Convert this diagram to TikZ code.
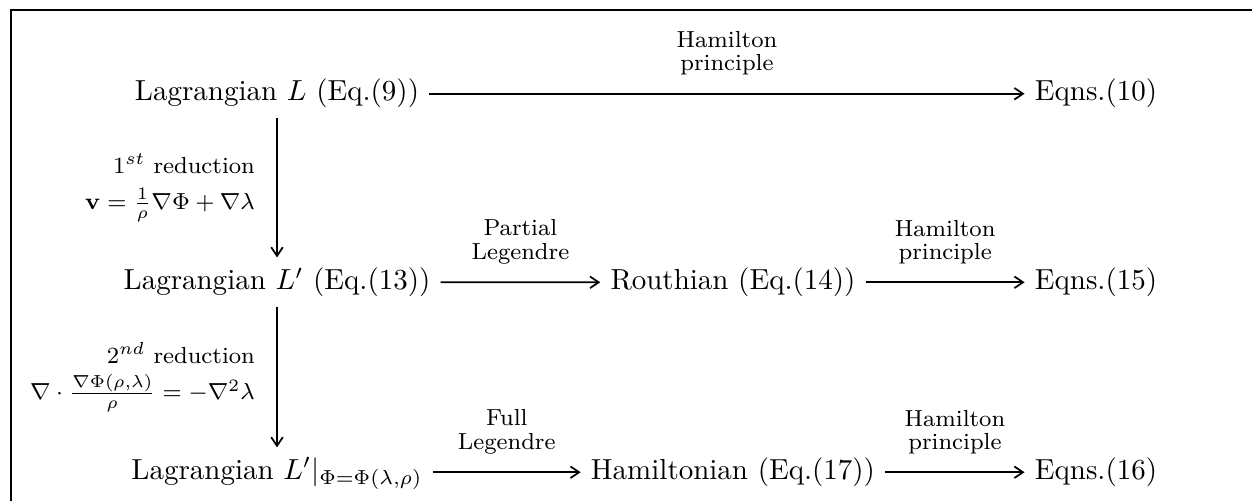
\documentclass[tikz,border=0pt]{standalone}
\usepackage{amsmath}
\usetikzlibrary{positioning, arrows.meta}

\begin{document}
\begin{tikzpicture}[
    stage/.style={anchor=base},
    flow/.style={-{Straight Barb[length=3pt,width=4pt]}, line width=0.6pt},
    hlab/.style={font=\footnotesize\linespread{0.85}\selectfont, align=center, inner sep=1pt, above=5pt},
    vlab/.style={font=\footnotesize, align=right, left=4pt}
  ]
  \useasboundingbox (0,0) rectangle (15.173,6.072);
  % frame (cut at right and bottom)
  \draw[line width=0.8pt] (0.133,0) -- (0.133,5.950) -- (15.173,5.950);

  % left column
  \node[stage] (lagA) at (3.357,4.848) {Lagrangian $L$ (Eq.(9))};
  \node[stage] (lagB) at (3.357,2.563) {Lagrangian $L'$ (Eq.(13))};
  \node[stage] (lagC) at (3.357,0.261) {Lagrangian $L'|_{\Phi=\Phi(\lambda,\rho)}$};
  % middle column
  \node[stage] (routh) at (8.883,2.563) {Routhian (Eq.(14))};
  \node[stage] (hamil) at (8.883,0.261) {Hamiltonian (Eq.(17))};
  % right column
  \node[stage] (eqA) at (13.282,4.848) {Eqns.(10)};
  \node[stage] (eqB) at (13.282,2.563) {Eqns.(15)};
  \node[stage] (eqC) at (13.282,0.261) {Eqns.(16)};

  \draw[flow] (lagA) -- node[hlab] {Hamilton\\principle} (eqA);
  \draw[flow] (lagB) -- node[hlab] {Partial\\Legendre} (routh);
  \draw[flow] (routh) -- node[hlab] {Hamilton\\principle} (eqB);
  \draw[flow] (lagC.east |- hamil) -- node[hlab] {Full\\Legendre} (hamil);
  \draw[flow] (hamil) -- node[hlab] {Hamilton\\principle} (eqC);

  \draw[flow] (lagA) -- node[vlab] {$1^{st}$ reduction\\[3pt] $\mathbf{v}=\frac{1}{\rho}\nabla\Phi+\nabla\lambda$} (lagB);
  \draw[flow] (lagB) -- node[vlab] {$2^{nd}$ reduction\\[3pt] $\nabla\cdot\frac{\nabla\Phi(\rho,\lambda)}{\rho}=-\nabla^2\lambda$} (lagC);
\end{tikzpicture}
\end{document}
